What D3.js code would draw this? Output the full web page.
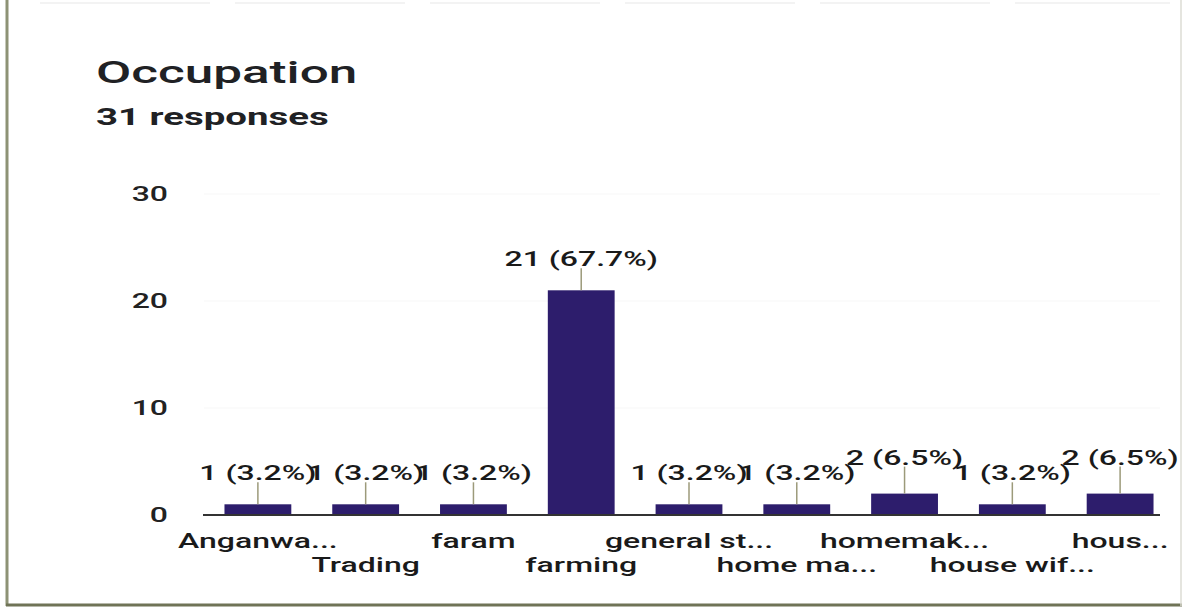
<!DOCTYPE html>
<html><head><meta charset="utf-8">
<script src="https://cdn.jsdelivr.net/npm/d3@7"></script>
<style>html,body{margin:0;padding:0;background:#fff;}svg{display:block;}</style>
</head><body>
<svg id="chart" width="1187" height="609"></svg>
<script>
const title = "Occupation";
const subtitle = "31 responses";
const categories = ["Anganwa...", "Trading", "faram", "farming", "general st...", "home ma...", "homemak...", "house wif...", "hous..."];
const counts = [1, 1, 1, 21, 1, 1, 2, 1, 2];
const labels = ["1 (3.2%)", "1 (3.2%)", "1 (3.2%)", "21 (67.7%)", "1 (3.2%)", "1 (3.2%)", "2 (6.5%)", "1 (3.2%)", "2 (6.5%)"];
const yTicks = [0, 10, 20, 30];

const SX = 1.6; // horizontal stretch of the photographed chart
const svg = d3.select("#chart");
const font = "Roboto, 'Liberation Sans', Arial, sans-serif";

function stext(g, x, y, str, size, weight, anchor, fill) {
  return g.append("text")
    .attr("transform", `translate(${x},${y}) scale(${SX},1)`)
    .attr("text-anchor", anchor)
    .attr("font-family", font)
    .attr("font-size", size)
    .attr("font-weight", weight)
    .attr("fill", fill || "#1a1a1a")
    .text(str);
}

// frame
svg.append("rect").attr("x", 0).attr("y", 0).attr("width", 1187).attr("height", 609).attr("fill", "#fff");
svg.append("line").attr("x1", 40).attr("x2", 1170).attr("y1", 3).attr("y2", 3).attr("stroke", "#f3f3f3").attr("stroke-width", 2).attr("stroke-dasharray", "170,25");
svg.append("line").attr("x1", 7).attr("x2", 7).attr("y1", 0).attr("y2", 606).attr("stroke", "#8d9275").attr("stroke-width", 3);
svg.append("line").attr("x1", 6).attr("x2", 1182).attr("y1", 605).attr("y2", 605).attr("stroke", "#6f7356").attr("stroke-width", 3);
svg.append("line").attr("x1", 1181).attr("x2", 1181).attr("y1", 0).attr("y2", 606).attr("stroke", "#dcdcd4").attr("stroke-width", 1.5);

stext(svg, 96, 83, title, 32, 500, "start", "#202124");
stext(svg, 96, 125, subtitle, 24, 700, "start", "#202124");

const x = d3.scaleBand().domain(categories).range([204, 1174]).paddingInner(0.38).paddingOuter(0.19);
const y = d3.scaleLinear().domain([0, 30]).range([515, 194]);

// faint gridlines
const grid = svg.append("g");
yTicks.filter(t => t > 0).forEach(t => {
  grid.append("line").attr("x1", 204).attr("x2", 1160).attr("y1", y(t)).attr("y2", y(t))
    .attr("stroke", "#f7f7f7").attr("stroke-width", 1);
});

// y tick labels
const yAxis = svg.append("g");
yTicks.forEach(t => {
  stext(yAxis, 168, y(t) + 7, String(t), 20, 500, "end", "#222");
});

// bars
const bars = svg.append("g");
categories.forEach((c, i) => {
  bars.append("rect")
    .attr("x", x(c)).attr("y", y(counts[i]))
    .attr("width", x.bandwidth()).attr("height", y(0) - y(counts[i]))
    .attr("fill", "#2d1d6c");
});

// baseline
svg.append("line").attr("x1", 203).attr("x2", 1160).attr("y1", y(0)).attr("y2", y(0))
  .attr("stroke", "#333").attr("stroke-width", 2);

// data labels with leader lines
const lab = svg.append("g");
categories.forEach((c, i) => {
  const cx = x(c) + x.bandwidth() / 2;
  const top = y(counts[i]);
  const ly = counts[i] === 2 ? top - 29 : top - 24;
  lab.append("line").attr("x1", cx).attr("x2", cx).attr("y1", top).attr("y2", ly + 2)
    .attr("stroke", "#9c9a7a").attr("stroke-width", 1.5);
  stext(lab, cx, ly, labels[i], 20, 500, "middle", "#1a1a1a");
});

// category labels, staggered on two rows
const xl = svg.append("g");
categories.forEach((c, i) => {
  const cx = x(c) + x.bandwidth() / 2;
  stext(xl, cx, i % 2 === 0 ? 548 : 572, c, 20, 500, "middle", "#1a1a1a");
});
</script>
</body></html>
